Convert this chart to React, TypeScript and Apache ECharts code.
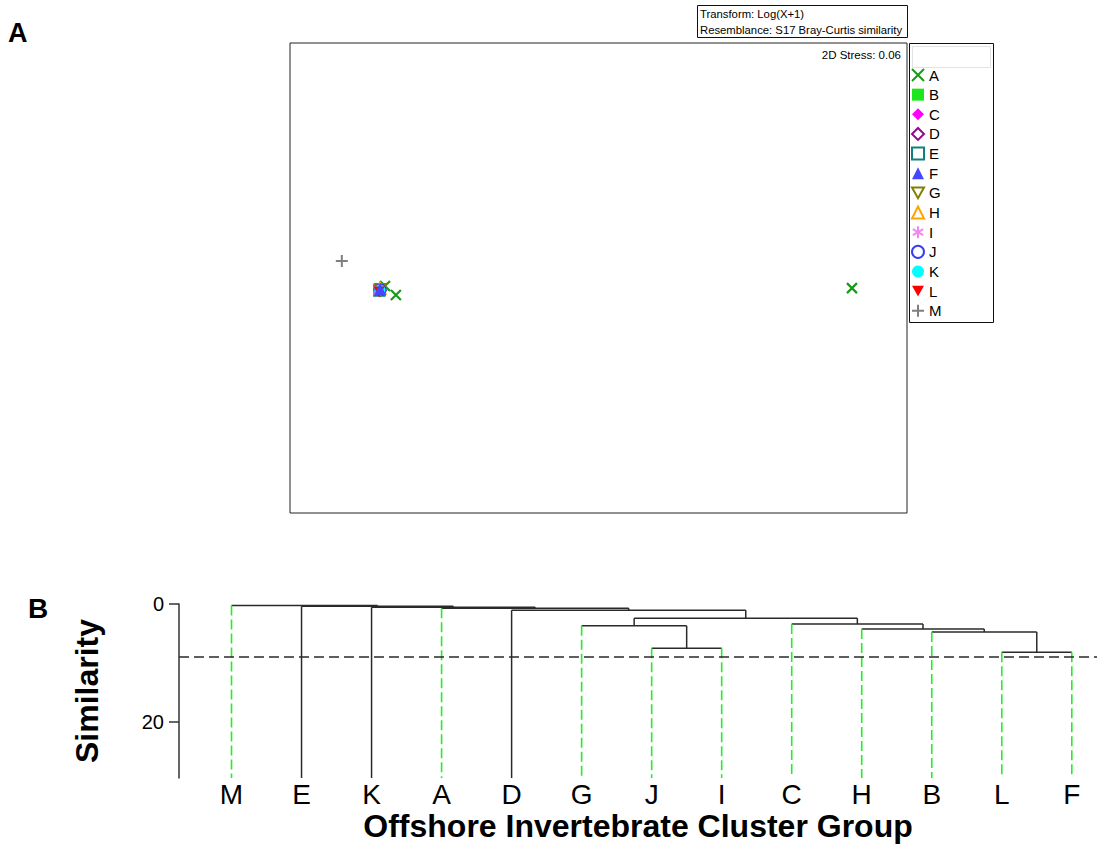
import React, { useEffect, useRef } from "react";
import * as echarts from "echarts";

// ---------- Panel A: nMDS ordination ----------
const groups = ["A", "B", "C", "D", "E", "F", "G", "H", "I", "J", "K", "L", "M"];
const ptsA = [[-0.615, -0.034], [-0.571, -0.072], [1.277, -0.043]];
const ptsB = [[-0.631, -0.055]];
const ptsC = [[-0.636, -0.05]];
const ptsD = [[-0.634, -0.052]];
const ptsE = [[-0.638, -0.053]];
const ptsF = [[-0.635, -0.047]];
const ptsG = [[-0.633, -0.049]];
const ptsH = [[-0.635, -0.044]];
const ptsI = [[-0.637, -0.048]];
const ptsJ = [[-0.634, -0.05]];
const ptsK = [[-0.636, -0.051]];
const ptsL = [[-0.639, -0.06]];
const ptsM = [[-0.79, 0.072]];
const groupPoints = [ptsA, ptsB, ptsC, ptsD, ptsE, ptsF, ptsG, ptsH, ptsI, ptsJ, ptsK, ptsL, ptsM];
const stressText = "2D Stress: 0.06";
const transformText = "Transform: Log(X+1)";
const resemblanceText = "Resemblance: S17 Bray-Curtis similarity";

// ---------- Panel B: dendrogram ----------
const leaves = ["M", "E", "K", "A", "D", "G", "J", "I", "C", "H", "B", "L", "F"];
const leafDashed = [true, false, false, true, false, true, true, true, true, true, true, true, true];
const linkLeft = [11, 6, 10, 9, 5, 8, 17, 4, 3, 2, 1, 0];
const linkRight = [12, 7, 13, 15, 14, 16, 18, 19, 20, 21, 22, 23];
const linkHeight = [8.2, 7.5, 4.75, 4.25, 3.7, 3.4, 2.4, 1.05, 0.72, 0.55, 0.4, 0.25];
const simTicks = [0, 20];
const simMax = 29.5;
const cutLevel = 9;

const FONT = "'Liberation Sans', Arial, Helvetica, sans-serif";

const X_PATH = "path://M0,0L10,10M10,0L0,10";
const PLUS_PATH = "path://M5,0L5,10M0,5L10,5";
const STAR_PATH = "path://M5,0L5,10M0.67,2.5L9.33,7.5M9.33,2.5L0.67,7.5";
const DOWN_TRI = "path://M0,0L10,0L5,9Z";

type Sty = { symbol: string; size: number; fill: string; stroke: string; bw: number };
const styles: Sty[] = [
  { symbol: X_PATH, size: 10, fill: "rgba(0,0,0,0)", stroke: "#179b17", bw: 2.2 },
  { symbol: "rect", size: 10, fill: "#1ee61e", stroke: "#1ee61e", bw: 0 },
  { symbol: "diamond", size: 12, fill: "#ff00ff", stroke: "#ff00ff", bw: 0 },
  { symbol: "diamond", size: 11, fill: "#ffffff", stroke: "#8e0a8e", bw: 2 },
  { symbol: "rect", size: 10, fill: "#ffffff", stroke: "#0e8080", bw: 2.5 },
  { symbol: "triangle", size: 12, fill: "#4646ff", stroke: "#4646ff", bw: 0 },
  { symbol: DOWN_TRI, size: 11, fill: "#ffffff", stroke: "#808000", bw: 2 },
  { symbol: "triangle", size: 11, fill: "#ffffff", stroke: "#ffa500", bw: 2 },
  { symbol: STAR_PATH, size: 12, fill: "rgba(0,0,0,0)", stroke: "#ee88ee", bw: 2 },
  { symbol: "circle", size: 10, fill: "#ffffff", stroke: "#3b3bf0", bw: 2.5 },
  { symbol: "circle", size: 11, fill: "#00ffff", stroke: "#00ffff", bw: 0 },
  { symbol: DOWN_TRI, size: 11, fill: "#ff0000", stroke: "#ff0000", bw: 0 },
  { symbol: PLUS_PATH, size: 12, fill: "rgba(0,0,0,0)", stroke: "#808080", bw: 2 },
];

function buildSegments() {
  const n = leaves.length;
  const nodeX: number[] = leaves.map((_, i) => i);
  const nodeH: number[] = leaves.map(() => simMax);
  const segs: number[][] = [];
  for (let k = 0; k < linkHeight.length; k++) {
    const l = linkLeft[k];
    const r = linkRight[k];
    const h = linkHeight[k];
    segs.push([nodeX[l], h, nodeX[r], h, 0]);
    [l, r].forEach((c) => {
      const st = c < n && leafDashed[c] ? 1 : 0;
      segs.push([nodeX[c], h, nodeX[c], nodeH[c], st]);
    });
    nodeX.push((nodeX[l] + nodeX[r]) / 2);
    nodeH.push(h);
  }
  return segs;
}

export default function App() {
  const ref = useRef<HTMLDivElement>(null);
  useEffect(() => {
    if (!ref.current) return;
    const chart = echarts.init(ref.current, undefined, { renderer: "svg" });
    const segs = buildSegments();

    const scatterSeries = groups.map((g, i) => ({
      type: "scatter",
      name: g,
      xAxisIndex: 0,
      yAxisIndex: 0,
      data: groupPoints[i],
      symbol: styles[i].symbol,
      symbolSize: styles[i].size,
      z: g === "F" ? 4 : 2,
      itemStyle: {
        color: styles[i].fill,
        borderColor: styles[i].stroke,
        borderWidth: styles[i].bw,
        opacity: 1,
      },
      emphasis: { disabled: true },
    }));

    const option: any = {
      animation: false,
      backgroundColor: "#ffffff",
      textStyle: { fontFamily: FONT },
      grid: [
        { left: 290, top: 43, width: 617, height: 470, show: true, borderColor: "#222", borderWidth: 1, backgroundColor: "transparent" },
        { left: 179, top: 604, right: 2, bottom: 68 },
      ],
      xAxis: [
        { gridIndex: 0, type: "value", min: -1, max: 1.5, show: false },
        {
          gridIndex: 1,
          type: "value",
          min: -0.75,
          max: 12.36,
          axisLine: { show: false, onZero: false },
          axisTick: { show: false },
          splitLine: { show: false },
          axisLabel: {
            customValues: leaves.map((_, i) => i),
            formatter: (v: number) => leaves[Math.round(v)] ?? "",
            fontSize: 28,
            color: "#000",
            fontFamily: FONT,
            margin: 2,
          },
          name: "Offshore Invertebrate Cluster Group",
          nameLocation: "middle",
          nameGap: 32,
          nameTextStyle: { fontSize: 32, fontWeight: "bold", color: "#000", fontFamily: FONT },
        },
      ],
      yAxis: [
        { gridIndex: 0, type: "value", min: -1, max: 1, show: false },
        {
          gridIndex: 1,
          type: "value",
          inverse: true,
          min: 0,
          max: simMax,
          axisLine: { show: true, onZero: false, lineStyle: { color: "#333", width: 1.5 } },
          axisTick: { show: true, customValues: simTicks, length: 10, lineStyle: { color: "#333", width: 1.5 } },
          splitLine: { show: false },
          axisLabel: { customValues: simTicks, fontSize: 20, color: "#000", fontFamily: FONT, margin: 15 },
          name: "Similarity",
          nameLocation: "middle",
          nameGap: 76,
          nameTextStyle: { fontSize: 32, fontWeight: "bold", color: "#000", fontFamily: FONT },
        },
      ],
      legend: {
        data: groups,
        orient: "vertical",
        left: 911,
        top: 67.5,
        padding: 0,
        itemWidth: 12,
        itemHeight: 12,
        itemGap: 4.65,
        selectedMode: false,
        textStyle: { fontSize: 15, color: "#000", fontFamily: FONT, lineHeight: 12 },
      },
      series: [
        ...scatterSeries,
        {
          type: "custom",
          xAxisIndex: 1,
          yAxisIndex: 1,
          data: segs,
          silent: true,
          renderItem: (params: any, api: any) => {
            const p1 = api.coord([api.value(0), api.value(1)]);
            const p2 = api.coord([api.value(2), api.value(3)]);
            const dashed = api.value(4) === 1;
            return {
              type: "line",
              shape: { x1: p1[0], y1: p1[1], x2: p2[0], y2: p2[1] },
              style: dashed
                ? { stroke: "#22ee22", lineWidth: 1.6, lineDash: [10, 4] }
                : { stroke: "#2a2a2a", lineWidth: 1.5 },
            };
          },
          markLine: {
            silent: true,
            symbol: "none",
            label: { show: false },
            lineStyle: { color: "#2a2a2a", width: 1.5, type: [10, 5] },
            data: [{ yAxis: cutLevel }],
          },
        },
      ],
      graphic: [
        { type: "text", x: 8, y: 33, style: { text: "A", font: `bold 27px ${FONT}`, fill: "#000", verticalAlign: "middle" } },
        { type: "text", x: 28, y: 608, style: { text: "B", font: `bold 28px ${FONT}`, fill: "#000", verticalAlign: "middle" } },
        { type: "rect", shape: { x: 697.5, y: 5.5, width: 210, height: 32 }, style: { fill: "#fff", stroke: "#111", lineWidth: 1 } },
        { type: "text", x: 700, y: 14, style: { text: transformText, font: `11.3px ${FONT}`, fill: "#000", verticalAlign: "middle" } },
        { type: "text", x: 700, y: 29.5, style: { text: resemblanceText, font: `11.3px ${FONT}`, fill: "#000", verticalAlign: "middle" } },
        { type: "text", x: 901, y: 55, style: { text: stressText, font: `11.5px ${FONT}`, fill: "#000", align: "right", verticalAlign: "middle" } },
        { type: "rect", shape: { x: 909.5, y: 43.5, width: 84, height: 279 }, style: { fill: "none", stroke: "#111", lineWidth: 1 } },
        { type: "rect", shape: { x: 912.5, y: 46.5, width: 78, height: 21 }, style: { fill: "none", stroke: "#e2e2e2", lineWidth: 1 } },
      ],
    };
    chart.setOption(option);
    return () => chart.dispose();
  }, []);
  return (
    <div
      ref={ref}
      style={{ position: "fixed", left: 0, top: 0, width: 1099, height: 846, background: "#fff" }}
    />
  );
}
